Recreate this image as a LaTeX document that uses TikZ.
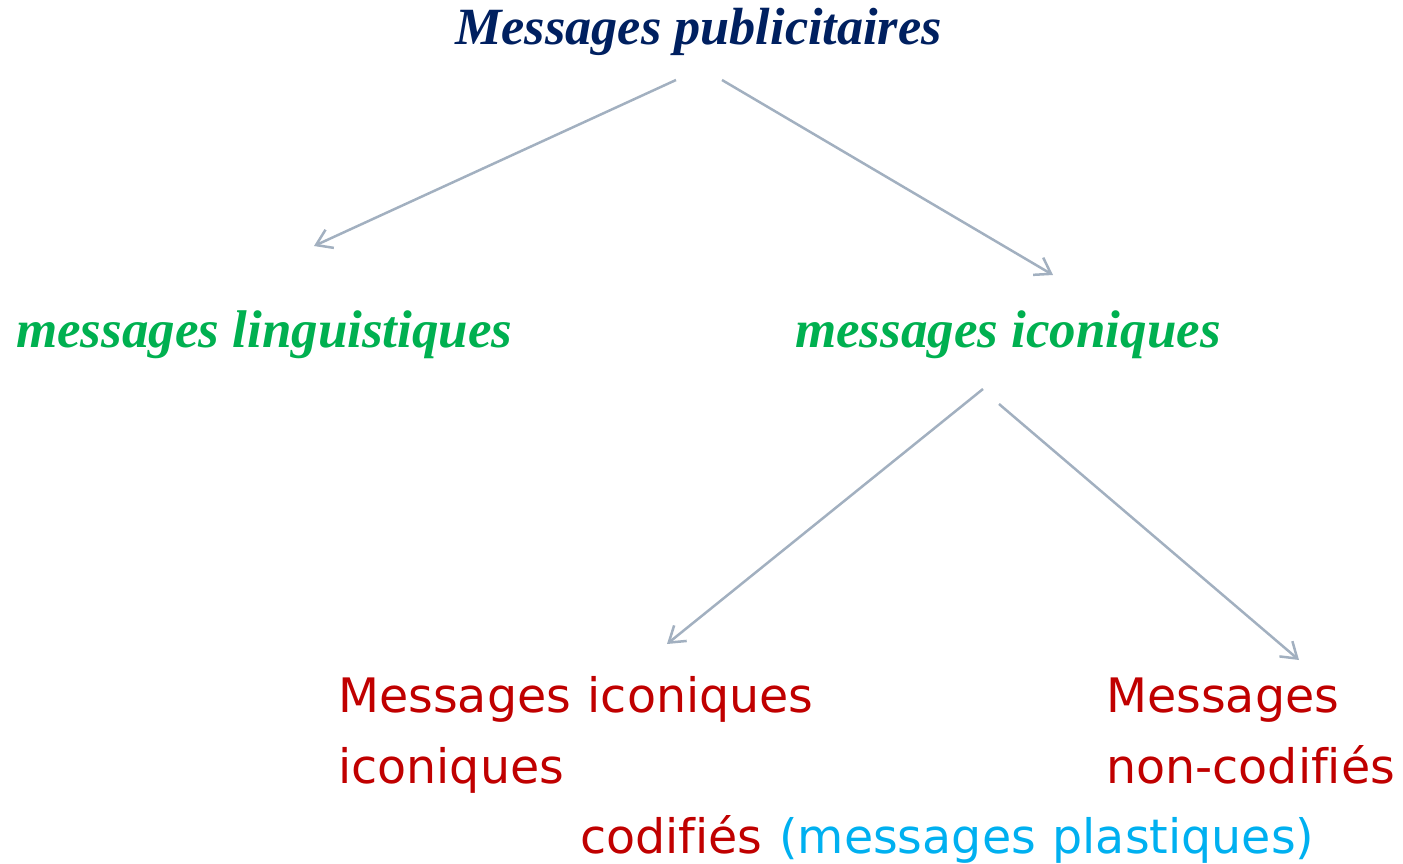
\documentclass[tikz,border=0pt]{standalone}
\usepackage{fontspec}
\setmainfont{Liberation Serif}
\newfontfamily\verd[Ligatures=NoCommon,WordSpace=1.1]{DejaVu Sans}
\usetikzlibrary{arrows.meta}
\definecolor{navy}{HTML}{002060}
\definecolor{grn}{HTML}{00B050}
\definecolor{rd}{HTML}{C00000}
\definecolor{lblue}{HTML}{00B0F0}
\definecolor{lin}{HTML}{A2B0C0}
\tikzset{
  ttl/.style={anchor=base west, inner sep=0pt, font=\fontsize{52.3}{60}\selectfont\bfseries\itshape},
  grt/.style={ttl, text=grn, font=\fontsize{53}{60}\selectfont\bfseries\itshape},
  red/.style={anchor=base west, inner sep=0pt, text=rd, font=\fontsize{47.5}{71}\selectfont\verd, align=left},
  arr/.style={draw=lin, line width=2.5pt, -{Straight Barb[length=15pt,width=20pt,line width=2.5pt]}}
}
\begin{document}
\begin{tikzpicture}[x=1pt,y=-1pt]
\useasboundingbox (0,0) rectangle (1403,864);
\node[ttl, text=navy] (title) at (455,45) {Messages publicitaires};
\node[grt] (ling) at (16,347) {messages linguistiques};
\node[grt] (icon) at (795,347) {messages iconiques};
\node[red] (codl1) at (338,712) {Messages iconiques};
\node[red] (codl2) at (338,783) {iconiques};
\node[red] (ncod1) at (1106,712) {Messages};
\node[red] (ncod2) at (1106,783) {non-codifiés};
\node[red] (codl3) at (580,853) {codifiés \textcolor{lblue}{(messages plastiques)}};
\coordinate (a1s) at (676,80);
\coordinate (a1e) at (314,246);
\coordinate (a2s) at (722,80);
\coordinate (a2e) at (1053,275);
\coordinate (a3s) at (983,389);
\coordinate (a3e) at (667,644);
\coordinate (a4s) at (999,404);
\coordinate (a4e) at (1299,660);
\draw[arr] (a1s) -- (a1e);
\draw[arr] (a2s) -- (a2e);
\draw[arr] (a3s) -- (a3e);
\draw[arr] (a4s) -- (a4e);
\end{tikzpicture}
\end{document}
